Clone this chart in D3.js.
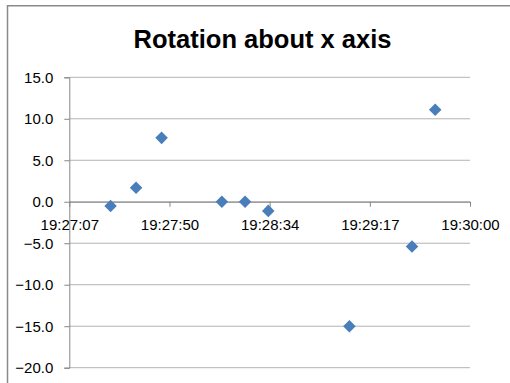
<!DOCTYPE html>
<html><head><meta charset="utf-8">
<script src="https://cdn.jsdelivr.net/npm/d3@7"></script>
<style>body{margin:0;background:#fff}svg{display:block}</style>
</head><body>
<script>
const title = "Rotation about x axis";
const times = ["19:27:25","19:27:36","19:27:47","19:28:13","19:28:23","19:28:33","19:29:08","19:29:35","19:29:45"];
const values = [-0.5, 1.7, 7.7, 0.0, 0.0, -1.1, -15.0, -5.4, 11.1];
const xTickLabels = ["19:27:07","19:27:50","19:28:34","19:29:17","19:30:00"];
const yTicks = [-20, -15, -10, -5, 0, 5, 10, 15];
const xStart = "19:27:07.2", xEnd = "19:30:00";

const toSec = s => { const p = s.split(":").map(Number); return p[0]*3600 + p[1]*60 + p[2]; };
const W = 510, H = 383;
const svg = d3.select("body").append("svg").attr("width", W).attr("height", H);
svg.append("rect").attr("x", 7.5).attr("y", 5.75).attr("width", 520).attr("height", 400)
  .attr("fill", "#fff").attr("stroke", "#8a8a8a").attr("stroke-width", 1.5);

const pL = 69.3, pR = 470, pT = 77.3, pB = 367.7;
const x = d3.scaleLinear().domain([toSec(xStart), toSec(xEnd)]).range([pL, pR]);
const y = d3.scaleLinear().domain([-20, 15]).range([pB, pT]);

svg.append("text").attr("x", 262.5).attr("y", 48.3).attr("text-anchor", "middle")
  .attr("font-family", "Liberation Sans, Arial, sans-serif").attr("font-weight", "bold")
  .attr("font-size", 25.5).attr("fill", "#000").text(title);

// gridlines
svg.append("g").selectAll("line").data(yTicks).join("line")
  .attr("x1", pL).attr("x2", pR).attr("y1", d => y(d)).attr("y2", d => y(d))
  .attr("stroke", "#b3b3b3").attr("stroke-width", 1);

// y axis
const yAxis = svg.append("g").attr("transform", `translate(${pL},0)`)
  .call(d3.axisLeft(y).tickValues(yTicks).tickFormat(d3.format(".1f")).tickSize(5).tickPadding(11));
yAxis.select(".domain").attr("stroke", "#868686");
yAxis.selectAll(".tick line").attr("stroke", "#868686");
yAxis.selectAll("text").attr("font-family", "Liberation Sans, Arial, sans-serif").attr("font-size", 15).attr("fill", "#000");

// x axis at y=0
const xTickVals = xTickLabels.map((d, i) => x.domain()[0] + i * (x.domain()[1] - x.domain()[0]) / (xTickLabels.length - 1));
const xAxis = svg.append("g").attr("transform", `translate(0,${y(0)})`)
  .call(d3.axisBottom(x).tickValues(xTickVals).tickFormat((d, i) => xTickLabels[i]).tickSize(5).tickSizeOuter(0).tickPadding(13));
xAxis.select(".domain").attr("stroke", "#868686");
xAxis.selectAll(".tick line").attr("stroke", "#868686");
xAxis.selectAll("text").attr("font-family", "Liberation Sans, Arial, sans-serif").attr("font-size", 15).attr("fill", "#000");

// points
const diamond = d3.symbol().type(d3.symbolDiamond2).size(100);
svg.append("g").selectAll("path").data(times.map((t, i) => ({t: toSec(t), v: values[i]}))).join("path")
  .attr("d", diamond)
  .attr("transform", d => `translate(${x(d.t)},${y(d.v)})`)
  .attr("fill", "#4A7EBB");
</script>
</body></html>
